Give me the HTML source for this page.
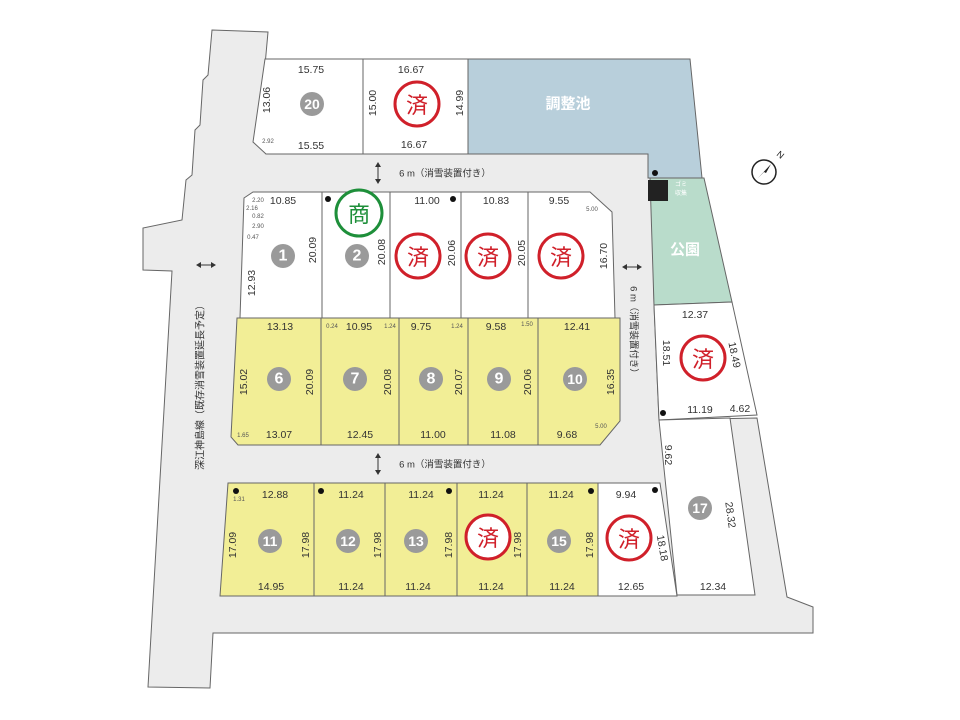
<!DOCTYPE html>
<html><head><meta charset="utf-8"><style>
html,body{margin:0;padding:0;background:#fff;}
svg{display:block;}
text{font-family:"Liberation Sans","Noto Sans CJK JP",sans-serif;}
.d{font-size:10.5px;fill:#333;text-anchor:middle;dominant-baseline:central;}
.s{font-size:6px;fill:#555;text-anchor:middle;dominant-baseline:central;}
.n{font-size:16px;font-weight:bold;fill:#fff;text-anchor:middle;dominant-baseline:central;}
.z{font-size:22px;fill:#d0202a;text-anchor:middle;dominant-baseline:central;font-family:"Noto Sans CJK JP",sans-serif;}
</style></head><body>
<svg width="960" height="720" viewBox="0 0 960 720" xmlns="http://www.w3.org/2000/svg">
<rect width="960" height="720" fill="#fff"/>
<polygon points="212,30 268,32 258,143 266,154 652,154 652,178 654,305 659,420 757,418 787,597 813,607 813,633 213,633 210,688 148,687 172,271 143,270 143,228 182,220 186,180 192,175 195,130 200,125 203,80 208,75" fill="#ececec" stroke="#666" stroke-width="1"/>
<polygon points="265,59 363,59 363,154 266,154 253,142" fill="#fff" stroke="#666"/>
<polygon points="363,59 468,59 468,154 363,154" fill="#fff" stroke="#666"/>
<polygon points="468,59 690,59 702,178 648,178 648,154 468,154" fill="#b8cfdb" stroke="#666"/>
<polygon points="650,178 704,178 732,302 654,305" fill="#b9dccb" stroke="#666"/>
<rect x="648" y="180" width="20" height="21" fill="#222"/>
<polygon points="654,305 732,302 757,415 659,420" fill="#fff" stroke="#666"/>
<polygon points="659,420 730,418 755,595 677,595" fill="#fff" stroke="#666"/>
<polygon points="253,192 590,192 612,212 615,318 240,318 244,198" fill="#fff" stroke="#666"/>
<g stroke="#666"><line x1="322" y1="192" x2="322" y2="318"/><line x1="390" y1="192" x2="390" y2="318"/><line x1="461" y1="192" x2="461" y2="318"/><line x1="528" y1="192" x2="528" y2="318"/></g>
<polygon points="237,318 620,318 620,421 600,445 238,445 231,437" fill="#f2ee96" stroke="#666"/>
<g stroke="#666"><line x1="321" y1="318" x2="321" y2="445"/><line x1="399" y1="318" x2="399" y2="445"/><line x1="468" y1="318" x2="468" y2="445"/><line x1="538" y1="318" x2="538" y2="445"/></g>
<polygon points="228,483 598,483 598,596 220,596" fill="#f2ee96" stroke="#666"/>
<polygon points="598,483 660,483 677,596 598,596" fill="#fff" stroke="#666"/>
<g stroke="#666"><line x1="314" y1="483" x2="314" y2="596"/><line x1="385" y1="483" x2="385" y2="596"/><line x1="457" y1="483" x2="457" y2="596"/><line x1="527" y1="483" x2="527" y2="596"/></g>
<g fill="#111"><circle cx="328" cy="199" r="3"/><circle cx="453" cy="199" r="3"/><circle cx="236" cy="491" r="3"/><circle cx="321" cy="491" r="3"/><circle cx="449" cy="491" r="3"/><circle cx="591" cy="491" r="3"/><circle cx="655" cy="490" r="3"/><circle cx="663" cy="413" r="3"/><circle cx="655" cy="173" r="3"/></g>
<g fill="#9a9a9a"><circle cx="312" cy="104" r="12"/><circle cx="283" cy="256" r="12"/><circle cx="357" cy="256" r="12"/><circle cx="279" cy="379" r="12"/><circle cx="355" cy="379" r="12"/><circle cx="431" cy="379" r="12"/><circle cx="499" cy="379" r="12"/><circle cx="575" cy="379" r="12"/><circle cx="270" cy="541" r="12"/><circle cx="348" cy="541" r="12"/><circle cx="416" cy="541" r="12"/><circle cx="559" cy="541" r="12"/><circle cx="700" cy="508" r="12"/></g>
<text class="n" x="312" y="104" style="font-size:14px">20</text><text class="n" x="283" y="256">1</text><text class="n" x="357" y="256">2</text>
<text class="n" x="279" y="379">6</text><text class="n" x="355" y="379">7</text><text class="n" x="431" y="379">8</text><text class="n" x="499" y="379">9</text><text class="n" x="575" y="379" style="font-size:14px">10</text>
<text class="n" x="270" y="541" style="font-size:14px">11</text><text class="n" x="348" y="541" style="font-size:14px">12</text><text class="n" x="416" y="541" style="font-size:14px">13</text><text class="n" x="559" y="541" style="font-size:14px">15</text><text class="n" x="700" y="508" style="font-size:14px">17</text>
<g fill="#fff" stroke="#d0202a" stroke-width="3"><circle cx="417" cy="104" r="22"/><circle cx="418" cy="256" r="22"/><circle cx="488" cy="256" r="22"/><circle cx="561" cy="256" r="22"/><circle cx="488" cy="537" r="22"/><circle cx="629" cy="538" r="22"/><circle cx="703" cy="358" r="22"/></g>
<text class="z" x="417" y="104">済</text><text class="z" x="418" y="256">済</text><text class="z" x="488" y="256">済</text><text class="z" x="561" y="256">済</text><text class="z" x="488" y="537">済</text><text class="z" x="629" y="538">済</text><text class="z" x="703" y="358">済</text>
<circle cx="359" cy="213" r="23" fill="#fff" stroke="#1e8f3a" stroke-width="3"/>
<text class="z" x="359" y="213" style="fill:#1e8f3a">商</text>
<text x="568" y="104" class="n" style="font-size:15px">調整池</text>
<text x="685" y="250" class="n" style="font-size:15px">公園</text>
<text x="681" y="186" style="font-size:6px;fill:#fff;text-anchor:middle">ゴミ</text>
<text x="681" y="195" style="font-size:6px;fill:#fff;text-anchor:middle">収集</text>
<g stroke="#333" stroke-width="1" fill="#333">
<line x1="378" y1="165" x2="378" y2="181"/><polygon points="375,167 381,167 378,162" stroke="none"/><polygon points="375,179 381,179 378,184" stroke="none"/>
<line x1="378" y1="456" x2="378" y2="472"/><polygon points="375,458 381,458 378,453" stroke="none"/><polygon points="375,470 381,470 378,475" stroke="none"/>
<line x1="625" y1="267" x2="639" y2="267"/><polygon points="627,264 627,270 622,267" stroke="none"/><polygon points="637,264 637,270 642,267" stroke="none"/>
<line x1="199" y1="265" x2="213" y2="265"/><polygon points="201,262 201,268 196,265" stroke="none"/><polygon points="211,262 211,268 216,265" stroke="none"/>
</g>
<text class="d" x="445" y="174" style="font-size:9.5px">6 m（消雪装置付き）</text>
<text class="d" x="445" y="465" style="font-size:9.5px">6 m（消雪装置付き）</text>
<text class="d" x="0" y="0" style="font-size:9.5px" transform="translate(633,332) rotate(90)">6 m（消雪装置付き）</text>
<text class="d" x="0" y="0" style="font-size:10px" transform="translate(201,385) rotate(-90)">深江神島線（既存消雪装置延長予定）</text>
<circle cx="764" cy="172" r="12" fill="#fff" stroke="#222" stroke-width="1.5"/>
<polygon points="771,164 758,178 764,172 766,173" fill="#222"/>
<text x="776" y="155" style="font-size:9px;fill:#222" transform="rotate(40 776 155)">N</text>
<g>
<text class="d" x="311" y="70">15.75</text><text class="d" x="311" y="146">15.55</text><text class="s" x="268" y="142">2.92</text>
<text class="d" transform="translate(267,100) rotate(-90)">13.06</text>
<text class="d" x="411" y="70">16.67</text><text class="d" x="414" y="145">16.67</text>
<text class="d" transform="translate(373,103) rotate(-90)">15.00</text><text class="d" transform="translate(460,103) rotate(-90)">14.99</text>
<text class="d" x="283" y="201">10.85</text>
<text class="s" x="258" y="201">2.20</text><text class="s" x="252" y="209">2.16</text><text class="s" x="258" y="217">0.82</text><text class="s" x="258" y="227">2.90</text><text class="s" x="253" y="238">0.47</text>
<text class="d" transform="translate(313,250) rotate(-90)">20.09</text><text class="d" transform="translate(252,283) rotate(-90)">12.93</text>
<text class="d" transform="translate(382,252) rotate(-90)">20.08</text>
<text class="d" x="427" y="201">11.00</text><text class="d" transform="translate(452,253) rotate(-90)">20.06</text>
<text class="d" x="496" y="201">10.83</text><text class="d" transform="translate(522,253) rotate(-90)">20.05</text>
<text class="d" x="559" y="201">9.55</text><text class="s" x="592" y="210">5.00</text><text class="d" transform="translate(604,256) rotate(-90)">16.70</text>
<text class="d" x="280" y="327">13.13</text><text class="d" transform="translate(244,382) rotate(-90)">15.02</text><text class="d" transform="translate(310,382) rotate(-90)">20.09</text><text class="s" x="243" y="436">1.65</text><text class="d" x="279" y="435">13.07</text>
<text class="s" x="332" y="327">0.24</text><text class="d" x="359" y="327">10.95</text><text class="s" x="390" y="327">1.24</text><text class="d" transform="translate(388,382) rotate(-90)">20.08</text><text class="d" x="360" y="435">12.45</text>
<text class="d" x="421" y="327">9.75</text><text class="s" x="457" y="327">1.24</text><text class="d" transform="translate(459,382) rotate(-90)">20.07</text><text class="d" x="433" y="435">11.00</text>
<text class="d" x="496" y="327">9.58</text><text class="s" x="527" y="325">1.50</text><text class="d" transform="translate(528,382) rotate(-90)">20.06</text><text class="d" x="503" y="435">11.08</text>
<text class="d" x="577" y="327">12.41</text><text class="d" transform="translate(611,382) rotate(-90)">16.35</text><text class="s" x="601" y="427">5.00</text><text class="d" x="567" y="435">9.68</text>
<text class="s" x="239" y="500">1.31</text><text class="d" x="275" y="495">12.88</text><text class="d" transform="translate(233,545) rotate(-90)">17.09</text><text class="d" transform="translate(306,545) rotate(-90)">17.98</text><text class="d" x="271" y="587">14.95</text>
<text class="d" x="351" y="495">11.24</text><text class="d" transform="translate(378,545) rotate(-90)">17.98</text><text class="d" x="351" y="587">11.24</text>
<text class="d" x="421" y="495">11.24</text><text class="d" transform="translate(449,545) rotate(-90)">17.98</text><text class="d" x="418" y="587">11.24</text>
<text class="d" x="491" y="495">11.24</text><text class="d" transform="translate(518,545) rotate(-90)">17.98</text><text class="d" x="491" y="587">11.24</text>
<text class="d" x="561" y="495">11.24</text><text class="d" transform="translate(590,545) rotate(-90)">17.98</text><text class="d" x="562" y="587">11.24</text>
<text class="d" x="626" y="495">9.94</text><text class="d" transform="translate(662,548) rotate(80)">18.18</text><text class="d" x="631" y="587">12.65</text>
<text class="d" x="695" y="315">12.37</text><text class="d" transform="translate(666,353) rotate(90)">18.51</text><text class="d" transform="translate(734,355) rotate(78)">18.49</text>
<text class="d" x="700" y="410">11.19</text><text class="d" x="740" y="409">4.62</text>
<text class="d" transform="translate(668,455) rotate(90)">9.62</text><text class="d" transform="translate(730,515) rotate(82)">28.32</text><text class="d" x="713" y="587">12.34</text>
</g>
</svg>
</body></html>
